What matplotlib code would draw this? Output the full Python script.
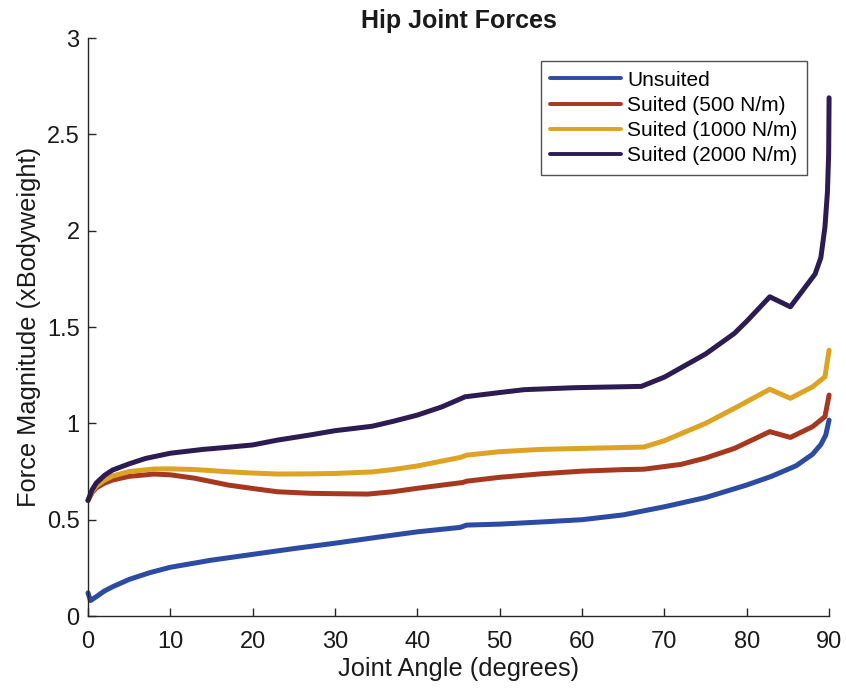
import matplotlib
matplotlib.use("Agg")
import matplotlib.pyplot as plt

plt.rcParams['font.family'] = ['Liberation Sans', 'DejaVu Sans']

# Data
angle_unsuited = [0, 0.3, 1, 2, 3, 5, 7.5, 10, 15, 20, 25, 30, 35, 40, 45.2, 46, 50, 55, 60, 65, 70, 75, 80, 83, 86, 88, 89, 89.6, 90]
force_unsuited = [0.12, 0.08, 0.10, 0.13, 0.152, 0.19, 0.225, 0.253, 0.29, 0.32, 0.35, 0.378, 0.408, 0.437, 0.46, 0.472, 0.477, 0.488, 0.50, 0.525, 0.567, 0.615, 0.68, 0.725, 0.78, 0.84, 0.89, 0.94, 1.017]

angle_500 = [0, 0.5, 1, 2, 3, 5, 8, 10, 13, 17, 20, 23, 27, 30, 34, 37, 40, 45.5, 46, 50, 55, 60, 65, 67.5, 72, 75, 78.5, 82.8, 85.3, 88, 89.5, 90]
force_500 = [0.60, 0.64, 0.665, 0.69, 0.706, 0.725, 0.737, 0.733, 0.715, 0.68, 0.662, 0.645, 0.637, 0.635, 0.633, 0.645, 0.663, 0.693, 0.70, 0.72, 0.738, 0.752, 0.76, 0.762, 0.787, 0.82, 0.87, 0.957, 0.927, 0.983, 1.035, 1.147]

angle_1000 = [0, 0.5, 1, 2, 3, 5, 8, 10, 13, 17, 20, 23, 27, 30, 34.5, 37, 40, 45.2, 46, 50, 55, 60, 67.5, 70, 75, 78.5, 82.8, 85.3, 88, 89.5, 90]
force_1000 = [0.60, 0.645, 0.675, 0.705, 0.727, 0.75, 0.763, 0.764, 0.76, 0.749, 0.742, 0.737, 0.738, 0.740, 0.748, 0.76, 0.779, 0.823, 0.835, 0.853, 0.865, 0.870, 0.877, 0.91, 1.0, 1.078, 1.177, 1.13, 1.19, 1.242, 1.38]

angle_2000 = [0, 0.5, 1, 2, 3, 5, 7, 10, 14, 17, 20, 23, 27, 30, 34.5, 37, 40, 43, 45.8, 50, 53, 59, 67.2, 70, 75, 78.5, 80, 82.8, 85.3, 88.3, 89, 89.5, 89.8, 89.95, 90]
force_2000 = [0.60, 0.655, 0.69, 0.73, 0.758, 0.79, 0.818, 0.845, 0.865, 0.876, 0.888, 0.913, 0.94, 0.962, 0.985, 1.01, 1.043, 1.086, 1.138, 1.16, 1.175, 1.185, 1.192, 1.24, 1.36, 1.467, 1.53, 1.657, 1.605, 1.775, 1.86, 2.02, 2.2, 2.4, 2.69]

labels = ["Unsuited", "Suited (500 N/m)", "Suited (1000 N/m)", "Suited (2000 N/m)"]
colors = ["#2c4ba3", "#a5381f", "#dda325", "#2d1c52"]

xticks = [0, 10, 20, 30, 40, 50, 60, 70, 80, 90]
yticks = [0, 0.5, 1, 1.5, 2, 2.5, 3]
ytick_labels = ["0", "0.5", "1", "1.5", "2", "2.5", "3"]

fig = plt.figure(figsize=(8.46, 6.92), dpi=100)
ax = fig.add_axes([0.104, 0.1098, 0.876, 0.8352])

series = [(angle_unsuited, force_unsuited), (angle_500, force_500),
          (angle_1000, force_1000), (angle_2000, force_2000)]
for (xs, ys), lab, c in zip(series, labels, colors):
    ax.plot(xs, ys, color=c, lw=3.6, label=lab, clip_on=False,
            solid_joinstyle='round', solid_capstyle='round')

ax.set_xlim(0, 90)
ax.set_ylim(0, 3)
ax.set_xticks(xticks)
ax.set_yticks(yticks)
ax.set_yticklabels(ytick_labels)
for s in ['top', 'right']:
    ax.spines[s].set_visible(False)
for s in ['left', 'bottom']:
    ax.spines[s].set_color('#262626')
    ax.spines[s].set_linewidth(1.0)
ax.tick_params(direction='in', length=6, width=1.0, colors='#262626',
               labelsize=17, labelcolor='#1a1a1a')
ax.tick_params(axis='x', pad=11)
ax.tick_params(axis='y', pad=6)

ax.set_xlabel("Joint Angle (degrees)", fontsize=18.3, color='#1a1a1a', labelpad=3)
ax.set_ylabel("Force Magnitude (xBodyweight)", fontsize=18.3, color='#1a1a1a', labelpad=4)
ax.set_title("Hip Joint Forces", fontsize=18, fontweight='bold', color='#1a1a1a', pad=7)

leg = ax.legend(loc='upper right', bbox_to_anchor=(0.970, 0.960), borderaxespad=0,
                fontsize=15, frameon=True, fancybox=False, handlelength=3.4,
                handletextpad=0.3, labelspacing=0.3, borderpad=0.45)
leg.get_frame().set_edgecolor('#262626')
leg.get_frame().set_linewidth(1.0)
for line in leg.get_lines():
    line.set_linewidth(2.8)

fig.savefig("out.png", dpi=100)
